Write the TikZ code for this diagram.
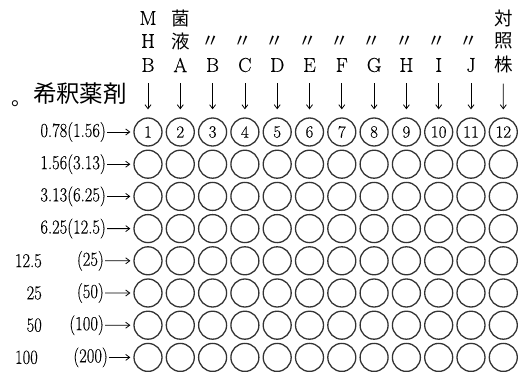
\documentclass[tikz,border=0pt]{standalone}
\usepackage{fontspec}
\setmainfont{Latin Modern Roman}[BoldFont={Latin Modern Roman}, BoldFeatures={FakeBold=0.3}]
\newfontfamily\jp{Noto Sans CJK JP}
\usetikzlibrary{arrows.meta}
\newcommand\tallt[1]{\scalebox{1}[1.2]{#1}}
\begin{document}
\begin{tikzpicture}[x=1pt,y=-1pt,
  well/.style={circle, draw=black!80, line width=1.3pt, minimum size=28pt, inner sep=0pt, font=\bfseries\fontsize{17}{17}\selectfont},
  lbl/.style={anchor=east, inner sep=0pt, font=\bfseries\fontsize{16.5}{16}\selectfont},
  hd/.style={inner sep=0pt, font=\bfseries\fontsize{20}{20}\selectfont},
  hj/.style={inner sep=0pt, font=\jp\fontsize{18.5}{18}\selectfont},
  arr/.style={-{Straight Barb[length=4pt,width=6pt]}, line width=0.8pt}]
\useasboundingbox (0,0) rectangle (520,372);
% wells
\foreach \i in {1,...,12}{
  \foreach \j in {1,...,8}{
    \node[well] (w\i-\j) at ({148+32.3*(\i-1)},{132+32.2*(\j-1)}) {\ifnum\j=1 \i\fi};
  }
}
% headers
\node[hd] (m1) at (148,18) {M};
\node[hd] (m2) at (148,41) {H};
\node[hd] (t1) at (148,65) {B};
\node[hj] (k1) at (180.3,18) {菌};
\node[hj] (k2) at (180.3,41) {液};
\node[hd] (t2) at (180.3,65) {A};
\foreach \i/\l in {3/B,4/C,5/D,6/E,7/F,8/G,9/H,10/I,11/J}{
  \node[hj] (d\i) at ({148+32.3*(\i-1)-2},42) {〃};
  \node[hd] (t\i) at ({148+32.3*(\i-1)},65) {\l};
}
\node[hj] (c1) at (503.3,18) {対};
\node[hj] (c2) at (503.3,41) {照};
\node[hj] (t12) at (503.3,64) {株};
\foreach \i in {1,...,12}{
  \draw[arr] ([yshift=-11pt]t\i.south) -- ([yshift=8pt]w\i-1.north);
}
% dilution label
\node[inner sep=0pt, font=\jp\fontsize{23.5}{23}\selectfont] (dil) at (80,94) {希釈薬剤};
\node[inner sep=0pt, anchor=base west, font=\jp\fontsize{20}{20}\selectfont] (dot) at (11,105) {。};
% row labels
\node[lbl] (r1) at (106,132) {\tallt{0.78(1.56)}};
\node[lbl] (r2) at (106,164.2) {\tallt{1.56(3.13)}};
\node[lbl] (r3) at (106,196.4) {\tallt{3.13(6.25)}};
\node[lbl] (r4) at (106,228.6) {\tallt{6.25(12.5)}};
\node[lbl] (n5) at (42,260.8) {\tallt{12.5}};
\node[lbl] (r5) at (104,260.8) {\tallt{(25)}};
\node[lbl] (n6) at (42,293) {\tallt{25}};
\node[lbl] (r6) at (104,293) {\tallt{(50)}};
\node[lbl] (n7) at (42,325.2) {\tallt{50}};
\node[lbl] (r7) at (104,325.2) {\tallt{(100)}};
\node[lbl] (n8) at (38,357.4) {\tallt{100}};
\node[lbl] (r8) at (108,357.4) {\tallt{(200)}};
\foreach \j in {1,...,8}{
  \draw[arr] ([xshift=1pt]r\j.east) -- ([xshift=-3pt]w1-\j.west);
}
\end{tikzpicture}
\end{document}
